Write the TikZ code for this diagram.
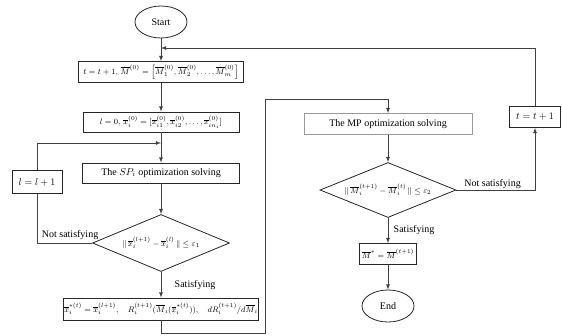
\documentclass[tikz,border=0pt]{standalone}
\usepackage{fontspec}
\setmainfont{Liberation Serif}
\usepackage{amsmath}
\usepackage{amssymb}
\usetikzlibrary{shapes.geometric}

\begin{document}
\begin{tikzpicture}[x=1pt,y=-1pt,>=latex,
	every node/.style={font=\fontsize{10}{12}\selectfont},
	line/.style={draw=black!75,line width=0.8pt},
	proc/.style={draw=black!85,line width=0.8pt,rectangle,inner sep=1pt,minimum height=21pt},
	term/.style={draw=black!85,line width=0.8pt,ellipse,inner sep=0pt,minimum width=52pt,minimum height=32pt},
	cond/.style={draw=black!85,line width=0.8pt,diamond,inner sep=0pt,aspect=2.4},
	fml/.style={font=\fontsize{8}{9}\selectfont}]

			\useasboundingbox (0,0) rectangle (562,335);

			% left column
			\node[term] (start) at (161,22) {Start};
			\node[proc,fml,minimum width=165pt] (init) at (161,72) {$t=t+1,\,\overline{M}^{(0)}=\left[\overline{M}_1^{(0)},\overline{M}_2^{(0)},\dots,\overline{M}_m^{(0)}\right]$};
			\node[proc,fml,minimum width=156pt,minimum height=20pt] (linit) at (161,122) {$l=0,\,\overline{x}_i^{(0)}=[\overline{x}_{i1}^{(0)},\overline{x}_{i2}^{(0)},\dots,\overline{x}_{in_i}^{(0)}]$};
			\node[proc,minimum width=157pt,minimum height=20pt] (sp) at (161,173) {The $SP_i$ optimization solving};
			\node[cond,fml,minimum width=137pt,minimum height=57pt] (d1) at (161,243) {$\|\,\overline{x}_i^{(l+1)}-\overline{x}_i^{(l)}\,\|\le\varepsilon_1$};
			\node[proc,fml,minimum width=180pt,minimum height=22pt] (xs) at (161,309) {$\overline{x}_i^{*(t)}=\overline{x}_i^{(l+1)},\quad R_i^{(t+1)}(\overline{M}_i(\overline{x}_i^{*(t)})),\quad dR_i^{(t+1)}/d\overline{M}_i$};
			\node[proc,minimum width=50pt,minimum height=23pt] (lstep) at (37,182) {$l=l+1$};

			% right column
			\node[proc,draw=black!40,minimum width=168pt] (mp) at (388,124) {The MP optimization solving};
			\node[cond,fml,minimum width=136pt,minimum height=55pt] (d2) at (388,190) {$\|\,\overline{M}_i^{(t+1)}-\overline{M}_i^{(t)}\,\|\le\varepsilon_2$};
			\node[proc,fml,minimum width=57pt] (mstar) at (388,254) {$\overline{M}^{*}=\overline{M}^{(t+1)}$};
			\node[term] (end) at (388,306) {End};
			\node[proc,minimum width=51pt] (tstep) at (535,117) {$t=t+1$};

			\coordinate (tjoin) at (161,48);
			\coordinate (ljoin) at (161,143);
			\coordinate (low) at (265,333);
			\coordinate (high) at (265,99);

			\draw[line,->] (start) -- (init);
			\draw[line,->] (init) -- (linit);
			\draw[line,->] (linit) -- (sp);
			\draw[line,->] (sp) -- (d1);
			\draw[line,->] (d1) -- node[right,xshift=10pt]{Satisfying} (xs);
			\draw[line] (d1.west) -| node[pos=0.2,above]{Not satisfying} (lstep.south);
			\draw[line,->] (lstep.north) |- (ljoin);
			\draw[line,->] (xs.south) |- (low) -- (high) -| (mp.north);

			\draw[line,->] (mp) -- (d2);
			\draw[line,->] (d2) -- node[right,xshift=2pt]{Satisfying} (mstar);
			\draw[line,->] (mstar) -- (end);
			\draw[line,->] (d2.east) -| node[pos=0.23,above,inner sep=1pt]{Not satisfying} (tstep.south);
			\draw[line,->] (tstep.north) |- (tjoin);
		\end{tikzpicture}
\end{document}
